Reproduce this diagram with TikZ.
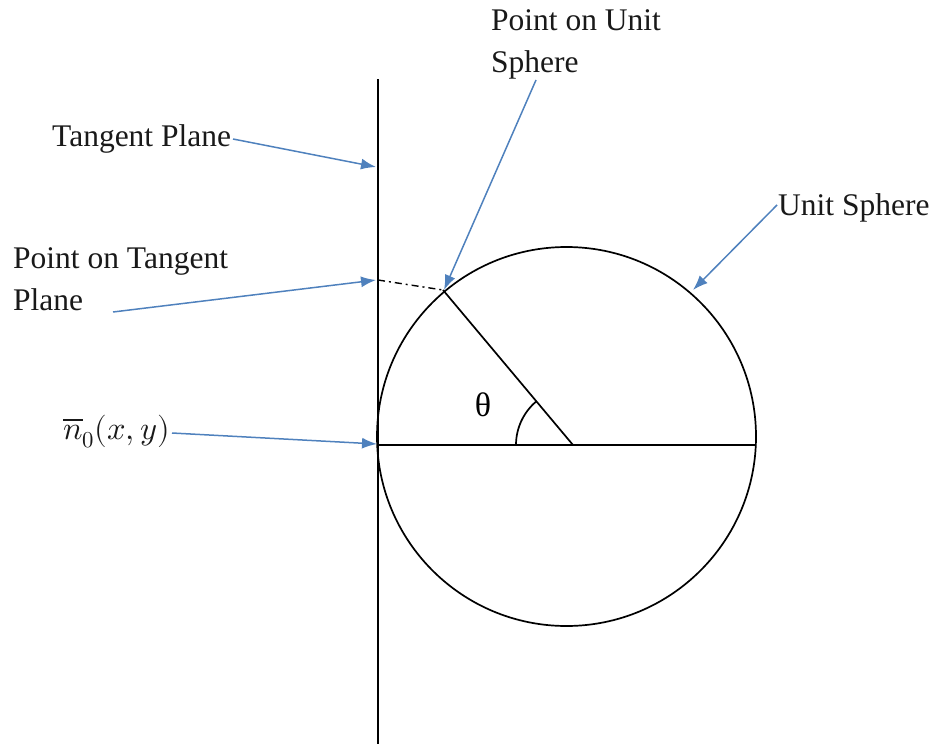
\documentclass[tikz,border=0pt]{standalone}
\usepackage{fontspec}
\setmainfont{Liberation Serif}
\usepackage{unicode-math}
\setmathfont{Latin Modern Math}
\usetikzlibrary{arrows.meta}
\definecolor{arrowblue}{HTML}{4F81BD}
\tikzset{
  lbl/.style={font=\fontsize{31.5}{42}\selectfont, inner sep=0pt, align=left, text=black!90},
  pointer/.style={draw=arrowblue, line width=1.5pt, -{Latex[length=15pt,width=11pt]}},
  geom/.style={draw=black, line width=1.7pt}
}
\begin{document}
\begin{tikzpicture}[x=1pt,y=-1pt]
\useasboundingbox (0,0) rectangle (933,744);
% geometry
\coordinate (ptop) at (378,79);
\coordinate (pbot) at (378,744);
\coordinate (O) at (566.5,436.5);
\coordinate (hl) at (378,445);
\coordinate (hr) at (756,445);
\coordinate (C) at (573,445);
\coordinate (S) at (443,290);
\coordinate (T) at (378,280);
\draw[geom] (ptop) -- (pbot);
\draw[geom] (O) circle[radius=189.5];
\draw[geom] (hl) -- (hr);
\draw[geom] (C) -- (S);
\draw[black, line width=1.4pt, dash pattern=on 7pt off 4pt on 2pt off 4pt] (T) -- (S);
\draw[geom] ([shift={(180:57)}]C) arc[start angle=180, end angle=230, radius=57];
\node[font=\fontsize{34}{34}\selectfont, inner sep=0pt] (theta) at (483,405) {θ};
% labels
\node[lbl, anchor=base west] (tp) at (52,146) {Tangent Plane};
\node[lbl, anchor=base west] (ptp) at (13,310) {Point on Tangent\\Plane};
\node[lbl, anchor=base west] (pus) at (491,72) {Point on Unit\\Sphere};
\node[lbl, anchor=base west] (us) at (778,215) {Unit Sphere};
\node[lbl, anchor=base west, font=\fontsize{32.5}{42}\selectfont] (n0) at (63,439) {$\overline{n}_0(x,y)$};
% pointer start points
\coordinate (tpA) at (233,139);
\coordinate (ptpA) at (113,312);
\coordinate (n0A) at (172,433);
\coordinate (pusA) at (536,80);
\coordinate (usA) at (777,205);
\coordinate (tpB) at (376,167);
\coordinate (ptpB) at (376,280);
\coordinate (n0B) at (377,444);
\coordinate (pusB) at (444,290);
\coordinate (usB) at (693,290);
\draw[pointer] (tpA) -- (tpB);
\draw[pointer] (ptpA) -- (ptpB);
\draw[pointer] (n0A) -- (n0B);
\draw[pointer] (pusA) -- (pusB);
\draw[pointer] (usA) -- (usB);
\end{tikzpicture}
\end{document}
